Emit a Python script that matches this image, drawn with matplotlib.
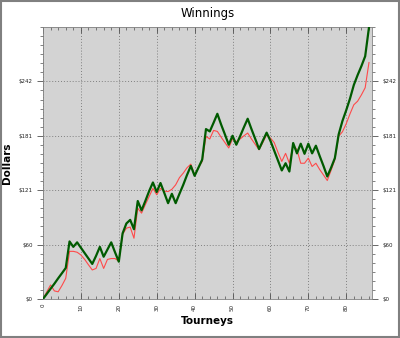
import numpy as np
import matplotlib
matplotlib.use("Agg")
from matplotlib import pyplot as plt
from matplotlib.ticker import MultipleLocator, FixedLocator
from matplotlib.patches import Rectangle

# Data (one point per tourney)
tourneys = np.arange(87)
green_winnings = [
    0, 5.7, 11.4, 17, 23, 28.7, 34.5, 64, 58, 63,
    57, 51, 45, 39, 48, 58, 47, 55, 63, 52,
    41.5, 73, 84, 88, 77.6, 109, 98.6, 109, 120, 129.6,
    119, 129, 118, 106.6, 117, 106.6, 117, 127, 138, 148,
    137, 146, 155, 189, 186.4, 196, 206, 194, 183, 171.6,
    181.6, 171.6, 181, 191, 200.5, 189, 178, 166.8, 176, 185,
    176, 165, 154, 143, 151, 141.8, 173.5, 162, 172.7, 161.5,
    172.7, 162, 170.5, 159, 148, 136.3, 146, 156.7, 183, 198,
    210, 223, 238, 249, 259, 270, 302,
]
red_winnings = [
    0, 8, 15.6, 9, 8, 15, 23, 53, 53, 52,
    49, 44, 38, 32.3, 34, 45, 34, 44, 45, 45,
    42, 72, 78.8, 80, 67.6, 101, 95.5, 105, 114, 123,
    116, 123, 120, 119.5, 122, 127, 135, 140, 146, 150,
    138, 146, 153, 180.8, 178, 187.5, 186.4, 180, 174, 168,
    178, 175, 178, 181.5, 184.6, 178, 172, 166, 174, 182.7,
    179, 174, 163, 153, 162, 151, 171.6, 166, 151, 151,
    156.7, 147.4, 151, 144, 138, 131.8, 143, 155, 181, 186,
    195, 206, 216, 220, 227, 235, 263,
]
y_ticks = [0, 60.5, 121, 181.5, 242]
y_labels = ["$0", "$60", "$121", "$181", "$242"]
x_ticks = [0, 10, 20, 30, 40, 50, 60, 70, 80]

fig = plt.figure(figsize=(4, 3.38), dpi=100)
fig.patches.append(Rectangle((0.002, 0.002), 0.996, 0.996, transform=fig.transFigure,
                             fill=False, edgecolor="#808080", linewidth=1.5))

ax = fig.add_axes([0.1075, 0.1154, 0.8225, 0.8046])
ax.set_facecolor("#d3d3d3")
ax.plot(tourneys, red_winnings, color="#ff4a4a", linewidth=0.8, zorder=3)
ax.plot(tourneys, green_winnings, color="#005a00", linewidth=1.6, zorder=4)

ax.set_xlim(0, 86.8)
ax.set_ylim(0, 302.5)
ax.yaxis.set_major_locator(FixedLocator(y_ticks))
ax.set_yticklabels(y_labels)
ax.yaxis.set_minor_locator(MultipleLocator(60.5 / 6))
ax.xaxis.set_major_locator(FixedLocator(x_ticks))
ax.xaxis.set_minor_locator(MultipleLocator(2))
ax.set_xticklabels([str(t) for t in x_ticks], rotation=90)

ax.tick_params(axis="both", which="major", labelsize=4, length=4, width=0.6,
               color="#505050", labelcolor="#202020")
ax.tick_params(axis="both", which="minor", length=2.5, width=0.5, color="#505050")
ax.tick_params(axis="y", which="both", left=True, right=True,
               labelleft=True, labelright=True, direction="out")
ax.tick_params(axis="x", which="both", bottom=True, top=True, direction="out")
ax.tick_params(axis="x", which="both", top=True, direction="in")

ax.grid(True, which="major", linestyle=(0, (1, 2)), color="#808080", linewidth=0.7)
for s in ax.spines.values():
    s.set_color("#808080")
    s.set_linewidth(0.6)

ax.set_title("Winnings", fontsize=8.5, pad=7)
ax.set_xlabel("Tourneys", fontsize=7.5, fontweight="bold", labelpad=4)
ax.set_ylabel("Dollars", fontsize=7.5, fontweight="bold")
ax.yaxis.set_label_coords(-0.094, 0.5)

fig.savefig("out.png", dpi=100)
